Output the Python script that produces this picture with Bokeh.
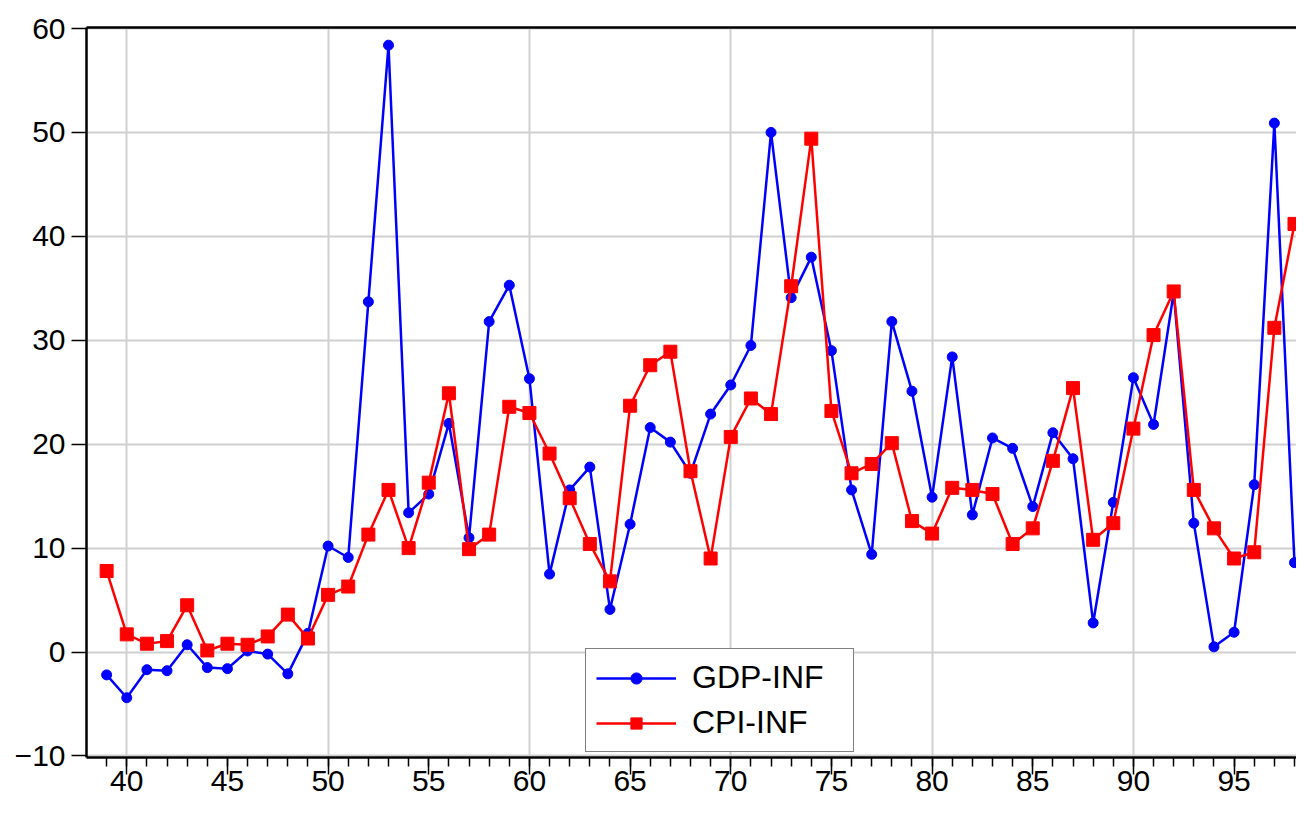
from bokeh.plotting import figure
from bokeh.models import Range1d, FixedTicker, LinearAxis, Legend
from bokeh.embed import file_html
from bokeh.resources import INLINE

years = list(range(39, 99))
gdp_inf = [-2.2, -4.4, -1.7, -1.8, 0.7, -1.5, -1.6, 0.1, -0.2, -2.1,
           1.8, 10.2, 9.1, 33.7, 58.4, 13.4, 15.2, 22.0, 11.0, 31.8,
           35.3, 26.3, 7.5, 15.6, 17.8, 4.1, 12.3, 21.6, 20.2, 17.2,
           22.9, 25.7, 29.5, 50.0, 34.1, 38.0, 29.0, 15.6, 9.4, 31.8,
           25.1, 14.9, 28.4, 13.2, 20.6, 19.6, 14.0, 21.1, 18.6, 2.8,
           14.4, 26.4, 21.9, 34.6, 12.4, 0.5, 1.9, 16.1, 50.9, 8.6]
cpi_inf = [7.8, 1.7, 0.8, 1.05, 4.5, 0.15, 0.8, 0.7, 1.5, 3.6,
           1.3, 5.5, 6.3, 11.3, 15.6, 10.0, 16.3, 24.9, 9.9, 11.3,
           23.6, 23.0, 19.1, 14.8, 10.4, 6.8, 23.7, 27.6, 28.9, 17.4,
           9.0, 20.7, 24.4, 22.9, 35.2, 49.4, 23.2, 17.2, 18.1, 20.1,
           12.6, 11.4, 15.8, 15.6, 15.2, 10.4, 11.9, 18.4, 25.4, 10.8,
           12.4, 21.5, 30.5, 34.7, 15.6, 11.9, 9.0, 9.6, 31.2, 41.2]
series_names = ["GDP-INF", "CPI-INF"]
x_ticks = [40, 45, 50, 55, 60, 65, 70, 75, 80, 85, 90, 95]
x_grid = [40, 50, 60, 70, 80, 90]
y_ticks = [-10, 0, 10, 20, 30, 40, 50, 60]

FONT = "Liberation Sans"

p = figure(width=1296, height=804,
           x_range=Range1d(38.0, 98.1), y_range=Range1d(-10.15, 60.1),
           output_backend="svg", toolbar_location=None,
           min_border_left=86, min_border_right=0,
           min_border_top=27, min_border_bottom=47)
p.outline_line_color = None
p.background_fill_color = "white"

# axes
p.xaxis.ticker = FixedTicker(ticks=x_ticks, minor_ticks=years)
p.yaxis.ticker = FixedTicker(ticks=y_ticks, minor_ticks=[])
p.xgrid.ticker = FixedTicker(ticks=x_grid)
p.ygrid.ticker = FixedTicker(ticks=y_ticks)
for g in (p.xgrid, p.ygrid):
    g.grid_line_color = "#d0d0d0"
    g.grid_line_width = 2

for ax in (p.xaxis, p.yaxis):
    ax.axis_line_color = "black"
    ax.axis_line_width = 2.5
    ax.major_tick_line_color = "black"
    ax.minor_tick_line_color = "black"
    ax.major_tick_line_width = 1.5
    ax.minor_tick_line_width = 1.5
    ax.major_tick_in = 0
    ax.minor_tick_in = 0
    ax.major_label_text_font = FONT
    ax.major_label_text_font_size = "30px"
    ax.major_label_text_color = "black"

p.xaxis.major_tick_out = 17
p.xaxis.minor_tick_out = 9
p.xaxis.major_label_standoff = -4
p.yaxis.major_tick_out = 15
p.yaxis.minor_tick_out = 0
p.yaxis.major_label_standoff = 6

top = LinearAxis(ticker=FixedTicker(ticks=[], minor_ticks=[]),
                 axis_line_color="black", axis_line_width=2.5,
                 major_tick_out=0, major_tick_in=0,
                 minor_tick_out=0, minor_tick_in=0,
                 major_label_text_font_size="0px", major_label_standoff=0)
p.add_layout(top, "above")

# data
r1 = p.line(years, gdp_inf, line_color="blue", line_width=2.5)
s1 = p.scatter(years, gdp_inf, marker="circle", size=10,
               fill_color="blue", line_color="blue")
r2 = p.line(years, cpi_inf, line_color="red", line_width=2.5)
s2 = p.scatter(years, cpi_inf, marker="square", size=13,
               fill_color="red", line_color="red")

legend = Legend(items=[(series_names[0], [r1, s1]), (series_names[1], [r2, s2])],
                location=(499, 5),
                border_line_color="black", border_line_width=1.5,
                background_fill_color="white", background_fill_alpha=1.0,
                padding=10, spacing=8, margin=0,
                glyph_width=80, glyph_height=28,
                label_height=35, label_width=151, label_standoff=16,
                label_text_font=FONT, label_text_font_size="32px",
                label_text_color="black")
p.add_layout(legend)

open("out.html", "w").write(file_html(p, INLINE))
